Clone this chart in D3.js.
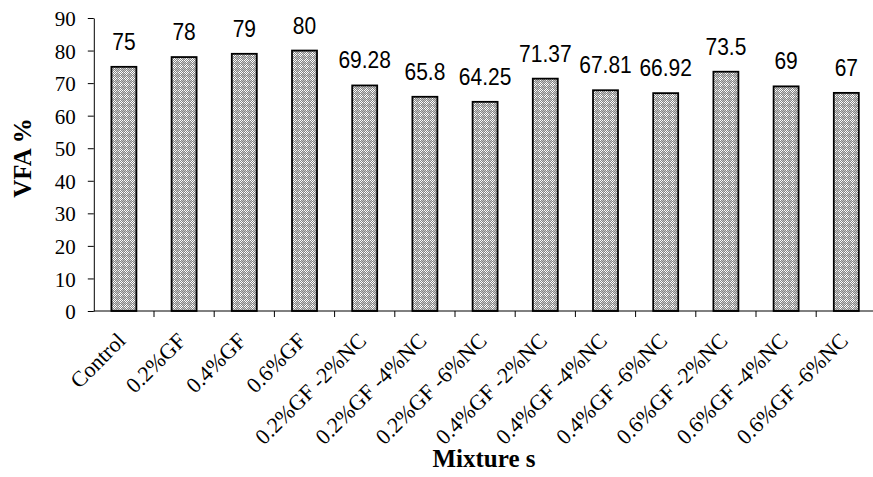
<!DOCTYPE html>
<html>
<head>
<meta charset="utf-8">
<script src="https://cdn.jsdelivr.net/npm/d3@7"></script>
<style>
  html, body { margin: 0; padding: 0; background: #fff; }
  svg { display: block; }
</style>
</head>
<body>
<svg id="chart" width="873" height="477"></svg>
<script>
// Mixture names and their VFA values (%)
const categories = ["Control", "0.2%GF", "0.4%GF", "0.6%GF",
  "0.2%GF -2%NC", "0.2%GF -4%NC", "0.2%GF -6%NC",
  "0.4%GF -2%NC", "0.4%GF -4%NC", "0.4%GF -6%NC",
  "0.6%GF -2%NC", "0.6%GF -4%NC", "0.6%GF -6%NC"];
const vfaValues = [75, 78, 79, 80, 69.28, 65.8, 64.25, 71.37, 67.81, 66.92, 73.5, 69, 67];
const valueLabels = ["75", "78", "79", "80", "69.28", "65.8", "64.25", "71.37", "67.81", "66.92", "73.5", "69", "67"];
const yTicks = [0, 10, 20, 30, 40, 50, 60, 70, 80, 90];

const svg = d3.select("#chart");
const left = 93.8, bandStep = 60.2;
const yBottom = 311, yTop = 18;

const x = d3.scaleBand()
  .domain(categories)
  .range([left, left + bandStep * categories.length])
  .paddingInner(0.585)
  .paddingOuter(0.2925);

const y = d3.scaleLinear().domain([0, 90]).range([yBottom, yTop]);

// Dotted grey fill used for the bars
const defs = svg.append("defs");
const pat = defs.append("pattern")
  .attr("id", "dots")
  .attr("patternUnits", "userSpaceOnUse")
  .attr("width", 6).attr("height", 6);
pat.append("rect").attr("width", 6).attr("height", 6).attr("fill", "#858585");
const cells = [];
for (let i = 0; i < 6; i++) for (let j = 0; j < 6; j++) if ((i + j) % 2 === 0) cells.push([i, j]);
pat.selectAll("rect.c").data(cells).join("rect")
  .attr("class", "c")
  .attr("x", d => d[0]).attr("y", d => d[1])
  .attr("width", 1).attr("height", 1)
  .attr("fill", d => {
    // white diamond around the tile corner, lighter grey elsewhere
    const dx = Math.min(d[0], 6 - d[0]), dy = Math.min(d[1], 6 - d[1]);
    return (dx + dy <= 2) ? "#ffffff" : "#c4c4c4";
  });

// Bars
svg.append("g").selectAll("rect").data(categories).join("rect")
  .attr("x", d => x(d))
  .attr("y", (d, i) => y(vfaValues[i]))
  .attr("width", x.bandwidth())
  .attr("height", (d, i) => y(0) - y(vfaValues[i]))
  .attr("fill", "url(#dots)")
  .attr("stroke", "#000")
  .attr("stroke-width", 1.8);

// Value labels above bars
svg.append("g").selectAll("text").data(categories).join("text")
  .attr("transform", (d, i) =>
    `translate(${x(d) + x.bandwidth() / 2},${y(vfaValues[i]) - 17}) scale(1,1.15)`)
  .attr("text-anchor", "middle")
  .attr("font-family", "Liberation Sans, Arial, sans-serif")
  .attr("font-size", 21)
  .attr("fill", "#000")
  .text((d, i) => valueLabels[i]);

// Y axis
const yAxis = d3.axisLeft(y).tickValues(yTicks).tickSize(6).tickPadding(12).tickSizeOuter(0);
const gy = svg.append("g").attr("transform", `translate(${left},0)`).call(yAxis);
gy.select(".domain").attr("stroke", "#000");
gy.selectAll(".tick line").attr("stroke", "#000");
gy.selectAll(".tick text")
  .attr("font-family", "Liberation Serif, Times New Roman, serif")
  .attr("font-size", 21)
  .attr("fill", "#000")
  .attr("dy", "0.36em");

// X axis: ticks at category boundaries
const gx = svg.append("g").attr("transform", `translate(0,${yBottom})`);
gx.append("line")
  .attr("x1", left).attr("x2", 873)
  .attr("y1", 0).attr("y2", 0)
  .attr("stroke", "#000");
const boundaries = d3.range(1, categories.length).map(i => left + i * bandStep);
gx.selectAll("line.tk").data(boundaries).join("line")
  .attr("class", "tk")
  .attr("x1", d => d).attr("x2", d => d)
  .attr("y1", 0).attr("y2", 6)
  .attr("stroke", "#000");

// Rotated category labels
gx.selectAll("text").data(categories).join("text")
  .attr("transform", d => `translate(${x(d) + x.bandwidth() / 2 + 3},${31}) rotate(-45)`)
  .attr("text-anchor", "end")
  .attr("font-family", "Liberation Serif, Times New Roman, serif")
  .attr("font-size", 22)
  .attr("fill", "#000")
  .text(d => d);

// Axis titles
svg.append("text")
  .attr("transform", `translate(31,158) rotate(-90)`)
  .attr("text-anchor", "middle")
  .attr("font-family", "Liberation Serif, Times New Roman, serif")
  .attr("font-weight", "bold")
  .attr("font-size", 25)
  .attr("fill", "#000")
  .text("VFA %");

svg.append("text")
  .attr("x", 484).attr("y", 467)
  .attr("text-anchor", "middle")
  .attr("font-family", "Liberation Serif, Times New Roman, serif")
  .attr("font-weight", "bold")
  .attr("font-size", 25)
  .attr("fill", "#000")
  .text("Mixture s");
</script>
</body>
</html>
